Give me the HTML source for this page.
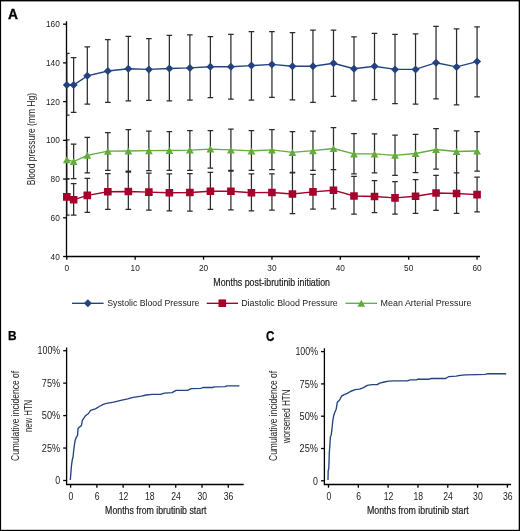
<!DOCTYPE html><html><head><meta charset="utf-8"><style>html,body{margin:0;padding:0;background:#fff;}svg{display:block;will-change:transform;}</style></head><body><svg width="520" height="531" viewBox="0 0 520 531" font-family='"Liberation Sans", sans-serif'><defs><clipPath id="pa"><rect x="66.5" y="0" width="420" height="256.5"/></clipPath></defs><rect x="0" y="0" width="520" height="531" fill="#000"/><rect x="1.1" y="1.4" width="517.6" height="528.4" fill="#fff"/><text x="7.9" y="18.5" font-size="13.8" font-weight="bold" fill="#000" stroke="#000" stroke-width="0.3">A</text><g stroke="#000" stroke-width="1.3" fill="none"><path d="M66.5 21.3V256.5H480"/><path d="M63.1 256.50H66.5"/><path d="M63.1 217.78H66.5"/><path d="M63.1 179.06H66.5"/><path d="M63.1 140.34H66.5"/><path d="M63.1 101.62H66.5"/><path d="M63.1 62.90H66.5"/><path d="M63.1 24.18H66.5"/><path d="M66.80 256.5V259.7"/><path d="M135.18 256.5V259.7"/><path d="M203.56 256.5V259.7"/><path d="M271.94 256.5V259.7"/><path d="M340.32 256.5V259.7"/><path d="M408.70 256.5V259.7"/><path d="M477.08 256.5V259.7"/></g><g font-size="8.3" fill="#222" text-anchor="end"><text x="59.8" y="259.50">40</text><text x="59.8" y="220.78">60</text><text x="59.8" y="182.06">80</text><text x="59.8" y="143.34">100</text><text x="59.8" y="104.62">120</text><text x="59.8" y="65.90">140</text><text x="59.8" y="27.18">160</text></g><g font-size="8.3" fill="#222" text-anchor="middle"><text x="66.80" y="270.6">0</text><text x="135.18" y="270.6">10</text><text x="203.56" y="270.6">20</text><text x="271.94" y="270.6">30</text><text x="340.32" y="270.6">40</text><text x="408.70" y="270.6">50</text><text x="477.08" y="270.6">60</text></g><text x="213.3" y="285.5" font-size="10.8" fill="#1a1a1a" stroke="#1a1a1a" stroke-width="0.2" textLength="116.7" lengthAdjust="spacingAndGlyphs">Months post-ibrutinib initiation</text><text transform="translate(34.8 185.2) rotate(-90)" x="0" y="0" font-size="11.2" fill="#222" textLength="92.2" lengthAdjust="spacingAndGlyphs">Blood pressure (mm Hg)</text><path d="M66.80 53.30V115.20M64.00 53.30H69.60M64.00 115.20H69.60M73.64 57.50V112.30M70.84 57.50H76.44M70.84 112.30H76.44M87.31 46.90V104.20M84.51 46.90H90.11M84.51 104.20H90.11M107.83 39.60V102.30M105.03 39.60H110.63M105.03 102.30H110.63M128.34 36.30V100.80M125.54 36.30H131.14M125.54 100.80H131.14M148.86 38.50V100.30M146.06 38.50H151.66M146.06 100.30H151.66M169.37 35.40V100.80M166.57 35.40H172.17M166.57 100.80H172.17M189.88 34.80V100.20M187.08 34.80H192.68M187.08 100.20H192.68M210.40 36.50V97.50M207.60 36.50H213.20M207.60 97.50H213.20M230.91 34.40V99.20M228.11 34.40H233.71M228.11 99.20H233.71M251.43 31.50V100.20M248.63 31.50H254.23M248.63 100.20H254.23M271.94 31.70V97.30M269.14 31.70H274.74M269.14 97.30H274.74M292.45 32.50V99.80M289.65 32.50H295.25M289.65 99.80H295.25M312.97 30.20V102.30M310.17 30.20H315.77M310.17 102.30H315.77M333.48 30.00V96.30M330.68 30.00H336.28M330.68 96.30H336.28M354.00 36.90V100.80M351.20 36.90H356.80M351.20 100.80H356.80M374.51 33.30V99.60M371.71 33.30H377.31M371.71 99.60H377.31M395.02 34.40V103.70M392.22 34.40H397.82M392.22 103.70H397.82M415.54 33.80V104.20M412.74 33.80H418.34M412.74 104.20H418.34M436.05 26.30V98.80M433.25 26.30H438.85M433.25 98.80H438.85M456.57 28.80V104.80M453.77 28.80H459.37M453.77 104.80H459.37M477.08 26.80V96.90M474.28 26.80H479.88M474.28 96.90H479.88M66.80 139.80V178.70M64.00 139.80H69.60M64.00 178.70H69.60M73.64 144.00V178.70M70.84 144.00H76.44M70.84 178.70H76.44M87.31 137.30V172.90M84.51 137.30H90.11M84.51 172.90H90.11M107.83 132.50V170.40M105.03 132.50H110.63M105.03 170.40H110.63M128.34 129.60V171.00M125.54 129.60H131.14M125.54 171.00H131.14M148.86 131.00V170.70M146.06 131.00H151.66M146.06 170.70H151.66M169.37 131.50V170.40M166.57 131.50H172.17M166.57 170.40H172.17M189.88 130.60V170.40M187.08 130.60H192.68M187.08 170.40H192.68M210.40 130.60V168.00M207.60 130.60H213.20M207.60 168.00H213.20M230.91 129.20V170.40M228.11 129.20H233.71M228.11 170.40H233.71M251.43 130.60V170.40M248.63 130.60H254.23M248.63 170.40H254.23M271.94 129.60V169.60M269.14 129.60H274.74M269.14 169.60H274.74M292.45 131.50V172.30M289.65 131.50H295.25M289.65 172.30H295.25M312.97 131.00V170.40M310.17 131.00H315.77M310.17 170.40H315.77M333.48 127.70V169.60M330.68 127.70H336.28M330.68 169.60H336.28M354.00 133.50V173.80M351.20 133.50H356.80M351.20 173.80H356.80M374.51 133.80V172.90M371.71 133.80H377.31M371.71 172.90H377.31M395.02 135.00V175.40M392.22 135.00H397.82M392.22 175.40H397.82M415.54 134.40V172.50M412.74 134.40H418.34M412.74 172.50H418.34M436.05 128.70V169.00M433.25 128.70H438.85M433.25 169.00H438.85M456.57 130.80V172.90M453.77 130.80H459.37M453.77 172.90H459.37M477.08 131.50V171.00M474.28 131.50H479.88M474.28 171.00H479.88M66.80 179.00V215.20M64.00 179.00H69.60M64.00 215.20H69.60M73.64 183.50V215.20M70.84 183.50H76.44M70.84 215.20H76.44M87.31 178.30V212.30M84.51 178.30H90.11M84.51 212.30H90.11M107.83 173.50V209.40M105.03 173.50H110.63M105.03 209.40H110.63M128.34 172.00V209.40M125.54 172.00H131.14M125.54 209.40H131.14M148.86 173.20V210.20M146.06 173.20H151.66M146.06 210.20H151.66M169.37 173.80V210.80M166.57 173.80H172.17M166.57 210.80H172.17M189.88 173.50V211.00M187.08 173.50H192.68M187.08 211.00H192.68M210.40 172.30V209.40M207.60 172.30H213.20M207.60 209.40H213.20M230.91 171.00V209.80M228.11 171.00H233.71M228.11 209.80H233.71M251.43 173.80V210.80M248.63 173.80H254.23M248.63 210.80H254.23M271.94 173.80V210.00M269.14 173.80H274.74M269.14 210.00H274.74M292.45 172.90V213.70M289.65 172.90H295.25M289.65 213.70H295.25M312.97 174.40V209.20M310.17 174.40H315.77M310.17 209.20H315.77M333.48 169.60V208.80M330.68 169.60H336.28M330.68 208.80H336.28M354.00 176.30V214.20M351.20 176.30H356.80M351.20 214.20H356.80M374.51 180.60V212.70M371.71 180.60H377.31M371.71 212.70H377.31M395.02 181.50V214.20M392.22 181.50H397.82M392.22 214.20H397.82M415.54 179.60V213.30M412.74 179.60H418.34M412.74 213.30H418.34M436.05 175.40V210.40M433.25 175.40H438.85M433.25 210.40H438.85M456.57 172.90V213.30M453.77 172.90H459.37M453.77 213.30H459.37M477.08 177.10V211.90M474.28 177.10H479.88M474.28 211.90H479.88" stroke="#2b2b2b" stroke-width="1.25" fill="none" clip-path="url(#pa)"/><polyline points="66.80,85.00 73.64,85.00 87.31,75.80 107.83,71.00 128.34,68.70 148.86,69.40 169.37,68.50 189.88,67.90 210.40,66.70 230.91,66.70 251.43,65.60 271.94,64.40 292.45,66.20 312.97,66.20 333.48,63.30 354.00,68.80 374.51,66.30 395.02,69.40 415.54,69.40 436.05,62.70 456.57,66.90 477.08,61.60" stroke="#23437f" stroke-width="1.4" fill="none"/><polyline points="66.80,159.70 73.64,161.60 87.31,155.30 107.83,151.20 128.34,151.00 148.86,150.70 169.37,150.50 189.88,150.10 210.40,149.10 230.91,149.90 251.43,150.90 271.94,149.90 292.45,152.40 312.97,150.70 333.48,148.50 354.00,153.90 374.51,153.90 395.02,155.30 415.54,153.50 436.05,149.50 456.57,151.50 477.08,151.00" stroke="#63ab3b" stroke-width="1.35" fill="none"/><polyline points="66.80,196.90 73.64,199.80 87.31,195.40 107.83,191.70 128.34,191.50 148.86,192.10 169.37,192.70 189.88,192.50 210.40,191.20 230.91,191.20 251.43,192.70 271.94,192.50 292.45,194.00 312.97,191.90 333.48,190.20 354.00,196.00 374.51,196.50 395.02,197.90 415.54,196.30 436.05,193.00 456.57,193.50 477.08,194.60" stroke="#a6002c" stroke-width="1.4" fill="none"/><path d="M66.80 81.00L70.80 85.00L66.80 89.00L62.80 85.00ZM73.64 81.00L77.64 85.00L73.64 89.00L69.64 85.00ZM87.31 71.80L91.31 75.80L87.31 79.80L83.31 75.80ZM107.83 67.00L111.83 71.00L107.83 75.00L103.83 71.00ZM128.34 64.70L132.34 68.70L128.34 72.70L124.34 68.70ZM148.86 65.40L152.86 69.40L148.86 73.40L144.86 69.40ZM169.37 64.50L173.37 68.50L169.37 72.50L165.37 68.50ZM189.88 63.90L193.88 67.90L189.88 71.90L185.88 67.90ZM210.40 62.70L214.40 66.70L210.40 70.70L206.40 66.70ZM230.91 62.70L234.91 66.70L230.91 70.70L226.91 66.70ZM251.43 61.60L255.43 65.60L251.43 69.60L247.43 65.60ZM271.94 60.40L275.94 64.40L271.94 68.40L267.94 64.40ZM292.45 62.20L296.45 66.20L292.45 70.20L288.45 66.20ZM312.97 62.20L316.97 66.20L312.97 70.20L308.97 66.20ZM333.48 59.30L337.48 63.30L333.48 67.30L329.48 63.30ZM354.00 64.80L358.00 68.80L354.00 72.80L350.00 68.80ZM374.51 62.30L378.51 66.30L374.51 70.30L370.51 66.30ZM395.02 65.40L399.02 69.40L395.02 73.40L391.02 69.40ZM415.54 65.40L419.54 69.40L415.54 73.40L411.54 69.40ZM436.05 58.70L440.05 62.70L436.05 66.70L432.05 62.70ZM456.57 62.90L460.57 66.90L456.57 70.90L452.57 66.90ZM477.08 57.60L481.08 61.60L477.08 65.60L473.08 61.60Z" fill="#23437f"/><path d="M66.80 156.20L70.70 163.20L62.90 163.20ZM73.64 158.10L77.54 165.10L69.74 165.10ZM87.31 151.80L91.21 158.80L83.41 158.80ZM107.83 147.70L111.73 154.70L103.93 154.70ZM128.34 147.50L132.24 154.50L124.44 154.50ZM148.86 147.20L152.76 154.20L144.96 154.20ZM169.37 147.00L173.27 154.00L165.47 154.00ZM189.88 146.60L193.78 153.60L185.98 153.60ZM210.40 145.60L214.30 152.60L206.50 152.60ZM230.91 146.40L234.81 153.40L227.01 153.40ZM251.43 147.40L255.33 154.40L247.53 154.40ZM271.94 146.40L275.84 153.40L268.04 153.40ZM292.45 148.90L296.35 155.90L288.55 155.90ZM312.97 147.20L316.87 154.20L309.07 154.20ZM333.48 145.00L337.38 152.00L329.58 152.00ZM354.00 150.40L357.90 157.40L350.10 157.40ZM374.51 150.40L378.41 157.40L370.61 157.40ZM395.02 151.80L398.92 158.80L391.12 158.80ZM415.54 150.00L419.44 157.00L411.64 157.00ZM436.05 146.00L439.95 153.00L432.15 153.00ZM456.57 148.00L460.47 155.00L452.67 155.00ZM477.08 147.50L480.98 154.50L473.18 154.50Z" fill="#63ab3b"/><path d="M63.00 193.10h7.60v7.60h-7.60ZM69.84 196.00h7.60v7.60h-7.60ZM83.51 191.60h7.60v7.60h-7.60ZM104.03 187.90h7.60v7.60h-7.60ZM124.54 187.70h7.60v7.60h-7.60ZM145.06 188.30h7.60v7.60h-7.60ZM165.57 188.90h7.60v7.60h-7.60ZM186.08 188.70h7.60v7.60h-7.60ZM206.60 187.40h7.60v7.60h-7.60ZM227.11 187.40h7.60v7.60h-7.60ZM247.63 188.90h7.60v7.60h-7.60ZM268.14 188.70h7.60v7.60h-7.60ZM288.65 190.20h7.60v7.60h-7.60ZM309.17 188.10h7.60v7.60h-7.60ZM329.68 186.40h7.60v7.60h-7.60ZM350.20 192.20h7.60v7.60h-7.60ZM370.71 192.70h7.60v7.60h-7.60ZM391.22 194.10h7.60v7.60h-7.60ZM411.74 192.50h7.60v7.60h-7.60ZM432.25 189.20h7.60v7.60h-7.60ZM452.77 189.70h7.60v7.60h-7.60ZM473.28 190.80h7.60v7.60h-7.60Z" fill="#a6002c"/><path d="M72 303.3H103.6" stroke="#23437f" stroke-width="1.35"/><path d="M87.90 299.30L91.90 303.30L87.90 307.30L83.90 303.30Z" fill="#23437f"/><path d="M206.7 303.3H238" stroke="#a6002c" stroke-width="1.35"/><path d="M218.50 299.40h7.60v7.60h-7.60Z" fill="#a6002c"/><path d="M345.5 303.3H377" stroke="#63ab3b" stroke-width="1.3"/><path d="M361.30 299.80L365.20 306.80L357.40 306.80Z" fill="#63ab3b"/><g font-size="9.9" fill="#222"><text x="107.2" y="306.1" textLength="92.2" lengthAdjust="spacingAndGlyphs">Systolic Blood Pressure</text><text x="241.2" y="306.1" textLength="96.6" lengthAdjust="spacingAndGlyphs">Diastolic Blood Pressure</text><text x="380.6" y="306.1" textLength="90.8" lengthAdjust="spacingAndGlyphs">Mean Arterial Pressure</text></g><text x="8" y="340.3" font-size="12.8" font-weight="bold" fill="#000" stroke="#000" stroke-width="0.25" textLength="8.6" lengthAdjust="spacingAndGlyphs">B</text><path d="M66.6 347.40V484.5H243.7" stroke="#000" stroke-width="1.3" fill="none"/><g stroke="#000" stroke-width="1.3"><path d="M63.20 480.50H66.6"/><path d="M63.20 448.05H66.6"/><path d="M63.20 415.60H66.6"/><path d="M63.20 383.15H66.6"/><path d="M63.20 350.70H66.6"/><path d="M70.60 484.5V487.7"/><path d="M96.88 484.5V487.7"/><path d="M123.16 484.5V487.7"/><path d="M149.44 484.5V487.7"/><path d="M175.72 484.5V487.7"/><path d="M202.00 484.5V487.7"/><path d="M228.28 484.5V487.7"/></g><g font-size="10.3" fill="#1a1a1a" text-anchor="end"><text x="60.20" y="484.20" textLength="4.9" lengthAdjust="spacingAndGlyphs">0</text><text x="60.20" y="451.75" textLength="18.4" lengthAdjust="spacingAndGlyphs">25%</text><text x="60.20" y="419.30" textLength="18.4" lengthAdjust="spacingAndGlyphs">50%</text><text x="60.20" y="386.85" textLength="18.4" lengthAdjust="spacingAndGlyphs">75%</text><text x="60.20" y="354.40" textLength="22.6" lengthAdjust="spacingAndGlyphs">100%</text></g><g font-size="10.3" fill="#1a1a1a" text-anchor="middle"><text x="70.90" y="499.5" textLength="4.8" lengthAdjust="spacingAndGlyphs">0</text><text x="97.18" y="499.5" textLength="4.8" lengthAdjust="spacingAndGlyphs">6</text><text x="123.46" y="499.5" textLength="9.6" lengthAdjust="spacingAndGlyphs">12</text><text x="149.74" y="499.5" textLength="9.6" lengthAdjust="spacingAndGlyphs">18</text><text x="176.02" y="499.5" textLength="9.6" lengthAdjust="spacingAndGlyphs">24</text><text x="202.30" y="499.5" textLength="9.6" lengthAdjust="spacingAndGlyphs">30</text><text x="228.58" y="499.5" textLength="9.6" lengthAdjust="spacingAndGlyphs">36</text></g><text x="105.1" y="514.0" font-size="10.8" fill="#1a1a1a" stroke="#1a1a1a" stroke-width="0.2" textLength="101.4" lengthAdjust="spacingAndGlyphs">Months from ibrutinib start</text><text transform="translate(19.3 461) rotate(-90)" font-size="10" fill="#222" textLength="90.2" lengthAdjust="spacingAndGlyphs">Cumulative incidence of</text><text transform="translate(31.7 432) rotate(-90)" font-size="10" fill="#222" textLength="32.2" lengthAdjust="spacingAndGlyphs">new HTN</text><polyline points="70.30,480.00 70.90,472.60 71.50,465.30 72.40,459.20 73.10,456.70 73.60,451.20 74.30,445.70 75.20,440.20 76.40,437.10 77.60,435.30 78.00,428.60 79.50,427.10 81.50,425.50 82.30,420.40 85.40,415.80 88.50,413.50 90.50,410.40 95.40,408.80 99.20,406.50 103.80,404.20 107.70,403.20 113.80,402.20 120.80,400.40 127.70,398.80 133.10,397.30 141.50,396.20 146.20,395.00 152.30,394.40 160.60,394.40 164.40,393.10 172.10,392.70 176.00,390.40 187.50,390.40 191.30,388.70 201.00,388.30 202.90,387.50 212.50,387.50 214.40,386.90 225.00,386.70 226.90,385.80 239.40,385.80" stroke="#23437f" stroke-width="1.35" fill="none" stroke-linejoin="round"/><text x="265.9" y="340.6" font-size="14" font-weight="bold" fill="#000" stroke="#000" stroke-width="0.25" textLength="8.4" lengthAdjust="spacingAndGlyphs">C</text><path d="M324.4 348.30V484.5H511.1" stroke="#000" stroke-width="1.3" fill="none"/><g stroke="#000" stroke-width="1.3"><path d="M321.00 480.80H324.4"/><path d="M321.00 448.50H324.4"/><path d="M321.00 416.20H324.4"/><path d="M321.00 383.90H324.4"/><path d="M321.00 351.60H324.4"/><path d="M328.50 484.5V487.7"/><path d="M358.32 484.5V487.7"/><path d="M388.14 484.5V487.7"/><path d="M417.96 484.5V487.7"/><path d="M447.78 484.5V487.7"/><path d="M477.60 484.5V487.7"/><path d="M507.42 484.5V487.7"/></g><g font-size="10.3" fill="#1a1a1a" text-anchor="end"><text x="318.00" y="484.50" textLength="4.9" lengthAdjust="spacingAndGlyphs">0</text><text x="318.00" y="452.20" textLength="18.4" lengthAdjust="spacingAndGlyphs">25%</text><text x="318.00" y="419.90" textLength="18.4" lengthAdjust="spacingAndGlyphs">50%</text><text x="318.00" y="387.60" textLength="18.4" lengthAdjust="spacingAndGlyphs">75%</text><text x="318.00" y="355.30" textLength="22.6" lengthAdjust="spacingAndGlyphs">100%</text></g><g font-size="10.3" fill="#1a1a1a" text-anchor="middle"><text x="328.80" y="499.5" textLength="4.8" lengthAdjust="spacingAndGlyphs">0</text><text x="358.62" y="499.5" textLength="4.8" lengthAdjust="spacingAndGlyphs">6</text><text x="388.44" y="499.5" textLength="9.6" lengthAdjust="spacingAndGlyphs">12</text><text x="418.26" y="499.5" textLength="9.6" lengthAdjust="spacingAndGlyphs">18</text><text x="448.08" y="499.5" textLength="9.6" lengthAdjust="spacingAndGlyphs">24</text><text x="477.90" y="499.5" textLength="9.6" lengthAdjust="spacingAndGlyphs">30</text><text x="507.72" y="499.5" textLength="9.6" lengthAdjust="spacingAndGlyphs">36</text></g><text x="366.9" y="514.0" font-size="10.8" fill="#1a1a1a" stroke="#1a1a1a" stroke-width="0.2" textLength="101.9" lengthAdjust="spacingAndGlyphs">Months from ibrutinib start</text><text transform="translate(277.4 461) rotate(-90)" font-size="10" fill="#222" textLength="90.2" lengthAdjust="spacingAndGlyphs">Cumulative incidence of</text><text transform="translate(289.9 443.2) rotate(-90)" font-size="10" fill="#222" textLength="53.8" lengthAdjust="spacingAndGlyphs">worsened HTN</text><polyline points="328.00,480.00 328.20,470.40 328.80,468.80 329.30,452.80 329.80,446.40 330.40,436.80 331.20,435.20 332.00,428.80 332.80,420.80 333.60,416.00 334.90,412.00 336.20,409.20 337.30,402.30 339.60,400.00 341.50,396.20 344.20,394.60 347.30,393.40 350.40,391.50 355.00,389.70 359.60,389.20 363.50,387.70 367.30,385.40 371.90,384.60 377.30,384.60 379.60,383.10 384.20,382.00 388.80,381.10 393.50,380.80 407.30,380.80 410.40,379.90 416.70,379.80 417.70,379.20 429.20,379.20 431.20,378.50 445.60,378.50 448.50,376.70 456.20,376.20 460.00,375.40 465.80,374.80 476.30,374.60 485.00,374.40 487.90,373.70 506.20,373.70" stroke="#23437f" stroke-width="1.35" fill="none" stroke-linejoin="round"/></svg></body></html>
